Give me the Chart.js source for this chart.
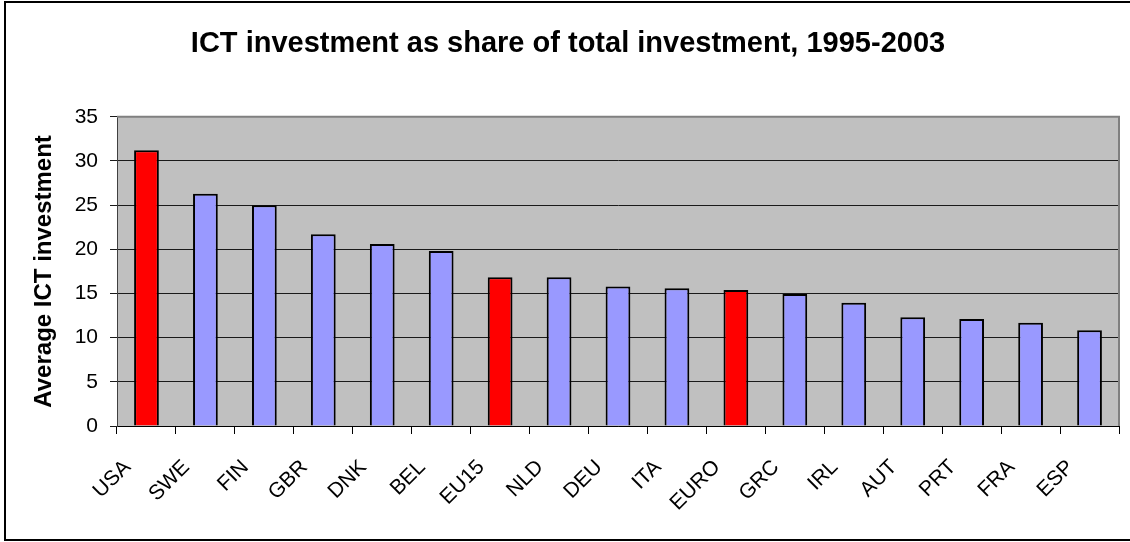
<!DOCTYPE html>
<html>
<head>
<meta charset="utf-8">
<script src="https://cdn.jsdelivr.net/npm/chart.js@4"></script>
<style>
  html, body { margin: 0; padding: 0; background: #ffffff; }
  #wrap { width: 1130px; height: 542px; position: relative; }
  canvas { display: block; }
</style>
</head>
<body>
<div id="wrap"><canvas id="c" width="1130" height="542"></canvas></div>
<script>
const categories = ["USA", "SWE", "FIN", "GBR", "DNK", "BEL", "EU15", "NLD", "DEU", "ITA", "EURO", "GRC", "IRL", "AUT", "PRT", "FRA", "ESP"];
const investmentShare = [31.2, 26.3, 25.0, 21.7, 20.6, 19.8, 16.85, 16.85, 15.8, 15.6, 15.4, 14.95, 13.95, 12.3, 12.1, 11.7, 10.85];
const highlighted = ["USA", "EU15", "EURO"];
const yTicks = [0, 5, 10, 15, 20, 25, 30, 35];
const chartTitle = "ICT investment as share of total investment, 1995-2003";
const yAxisTitle = "Average ICT investment";

const FONT = "'Liberation Sans', Arial, sans-serif";
const barColors = categories.map(c => highlighted.includes(c) ? "#FF0000" : "#9999FF");

const frame = {
  id: "frame",
  beforeDraw(chart) {
    const ctx = chart.ctx;
    ctx.save();
    ctx.fillStyle = "#ffffff";
    ctx.fillRect(0, 0, chart.width, chart.height);
    const a = chart.chartArea;
    ctx.fillStyle = "#C0C0C0";
    ctx.fillRect(a.left, a.top, a.right - a.left, a.bottom - a.top);
    ctx.restore();
  },
  afterDatasetsDraw(chart) {
    const ctx = chart.ctx;
    const a = chart.chartArea;
    ctx.save();
    ctx.strokeStyle = "#808080";
    ctx.lineWidth = 2;
    ctx.beginPath();
    ctx.moveTo(a.left, a.top);
    ctx.lineTo(a.right, a.top);
    ctx.lineTo(a.right, a.bottom);
    ctx.stroke();
    ctx.restore();
  },
  afterDraw(chart) {
    const ctx = chart.ctx;
    ctx.save();
    ctx.strokeStyle = "#000000";
    ctx.lineWidth = 2;
    ctx.strokeRect(5, 2, 1130, 538);
    ctx.restore();
  }
};

new Chart(document.getElementById("c"), {
  type: "bar",
  data: {
    labels: categories,
    datasets: [{
      data: investmentShare,
      backgroundColor: barColors,
      borderColor: "#000000",
      borderWidth: 2,
      barPercentage: 0.42,
      categoryPercentage: 1.0
    }]
  },
  options: {
    responsive: false,
    animation: false,
    devicePixelRatio: 1,
    layout: { padding: { left: 17, right: 11, top: 0, bottom: 0 } },
    plugins: {
      legend: { display: false },
      tooltip: { enabled: false },
      title: {
        display: true,
        text: chartTitle,
        color: "#000000",
        font: { family: FONT, size: 29, weight: "bold", lineHeight: 1.2 },
        padding: { top: 27, bottom: 55 }
      }
    },
    scales: {
      x: {
        grid: {
          display: true,
          drawOnChartArea: false,
          drawTicks: true,
          tickLength: 8,
          color: "#000000",
          offset: true
        },
        border: { display: true, color: "#000000", width: 1 },
        ticks: {
          color: "#000000",
          font: { family: FONT, size: 21 },
          minRotation: 45,
          maxRotation: 45,
          autoSkip: false,
          padding: 21,
          labelOffset: -19
        },
        afterFit(scale) { scale.height = 116; }
      },
      y: {
        min: 0,
        max: 35,
        afterBuildTicks(scale) { scale.ticks = yTicks.map(v => ({ value: v })); },
        grid: {
          color: "#1a1a1a",
          lineWidth: 1,
          drawTicks: true,
          tickLength: 7
        },
        border: { display: true, color: "#404040", width: 1 },
        ticks: {
          color: "#000000",
          font: { family: FONT, size: 21 },
          padding: 12
        },
        title: {
          display: true,
          text: yAxisTitle,
          color: "#000000",
          font: { family: FONT, size: 24, weight: "bold", lineHeight: 1.2 },
          padding: { top: 13, bottom: 0 }
        },
        afterFit(scale) { scale.width = 100; }
      }
    }
  },
  plugins: [frame]
});
</script>
</body>
</html>
